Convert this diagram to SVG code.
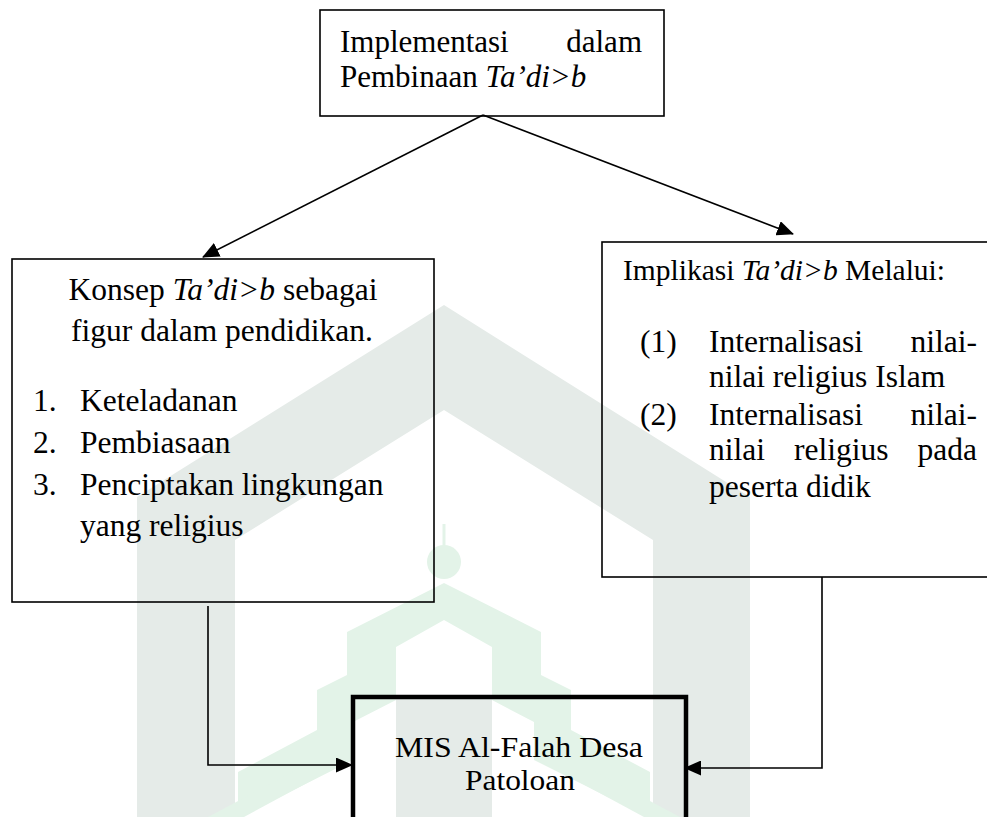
<svg xmlns="http://www.w3.org/2000/svg" width="987" height="817" viewBox="0 0 987 817">
<style>
.t{font-family:"Liberation Serif","Times New Roman",serif;font-size:31.5px;fill:#000}
.i{font-style:italic}
.box{fill:none;stroke:#000;stroke-width:1.6}
.thick{fill:none;stroke:#000;stroke-width:4.5}
.con{fill:none;stroke:#000;stroke-width:1.6}
.wg{fill:#e5ebe8}
.wm{fill:#e3f3e8}
</style>
<defs>
<marker id="ah" markerUnits="userSpaceOnUse" markerWidth="17" markerHeight="15" refX="16" refY="7.5" orient="auto" viewBox="0 0 17 15">
<path d="M0,0 L17,7.5 L0,15 z" fill="#000"/>
</marker>
</defs>
<rect width="987" height="817" fill="#fff"/>
<g id="watermark">
<polygon class="wg" points="137,817 137,497 444,305 750,497 750,817 653,817 653,540 444,410 235,540 235,817"/>
<rect class="wg" x="396" y="697" width="96" height="120"/>
<polygon class="wm" points="238,772 317,730 317,690 347,675 347,632 444,583 541,632 541,675 571,690 571,730 650,772 650,805 624,805 534,760 534,722 492,700 492,697 492,647 444,620 396,647 396,700 353,722 353,760 264,805 238,805"/>
<line x1="444" y1="524" x2="444" y2="548" stroke="#e3f3e8" stroke-width="3"/>
<circle class="wm" cx="444" cy="562" r="17"/>
<polygon class="wm" points="208,817 300,768 318,777 244,817"/>
<polygon class="wm" points="680,817 588,768 570,777 644,817"/>
</g>
<g id="connectors">
<line class="con" x1="483" y1="115" x2="203" y2="257" marker-end="url(#ah)"/>
<line class="con" x1="483" y1="115" x2="793" y2="234" marker-end="url(#ah)"/>
<path class="con" d="M208,606 V765 H352" marker-end="url(#ah)"/>
<path class="con" d="M822,577 V768 H685" marker-end="url(#ah)"/>
</g>
<g id="node-top">
<rect class="box" x="320" y="10" width="344" height="106"/>
<text class="t" x="340" y="52" style="font-size:31px">Implementasi</text>
<text class="t" x="642" y="52" text-anchor="end" style="font-size:31px">dalam</text>
<text class="t" x="340" y="87" style="font-size:31px">Pembinaan <tspan class="i">Ta’di&gt;b</tspan></text>
</g>
<g id="node-konsep">
<rect class="box" x="12" y="259" width="422" height="343"/>
<text class="t" x="223" y="300" text-anchor="middle">Konsep <tspan class="i">Ta’di&gt;b</tspan> sebagai</text>
<text class="t" x="222" y="341" text-anchor="middle">figur dalam pendidikan.</text>
<text class="t" x="33" y="411">1.</text><text class="t" x="80" y="411">Keteladanan</text>
<text class="t" x="33" y="453">2.</text><text class="t" x="80" y="453">Pembiasaan</text>
<text class="t" x="33" y="495">3.</text><text class="t" x="80" y="495">Penciptakan lingkungan</text>
<text class="t" x="80" y="536">yang religius</text>
</g>
<g id="node-implikasi">
<rect class="box" x="602" y="242" width="400" height="335"/>
<text class="t" x="623" y="280" style="font-size:29.5px">Implikasi <tspan class="i">Ta’di&gt;b</tspan> Melalui:</text>
<text class="t" x="640" y="352">(1)</text>
<text class="t" x="709" y="352">Internalisasi</text>
<text class="t" x="977" y="352" text-anchor="end">nilai-</text>
<text class="t" x="709" y="387">nilai religius Islam</text>
<text class="t" x="640" y="425">(2)</text>
<text class="t" x="709" y="425">Internalisasi</text>
<text class="t" x="977" y="425" text-anchor="end">nilai-</text>
<text class="t" x="709" y="460">nilai</text>
<text class="t" x="794" y="460">religius</text>
<text class="t" x="977" y="460" text-anchor="end">pada</text>
<text class="t" x="709" y="497">peserta didik</text>
</g>
<g id="node-mis">
<rect class="thick" x="353" y="697" width="333" height="140"/>
<text class="t" x="395" y="757" style="font-size:29px" textLength="248" lengthAdjust="spacingAndGlyphs">MIS Al-Falah Desa</text>
<text class="t" x="465" y="790" style="font-size:29px" textLength="110" lengthAdjust="spacingAndGlyphs">Patoloan</text>
</g>
</svg>
